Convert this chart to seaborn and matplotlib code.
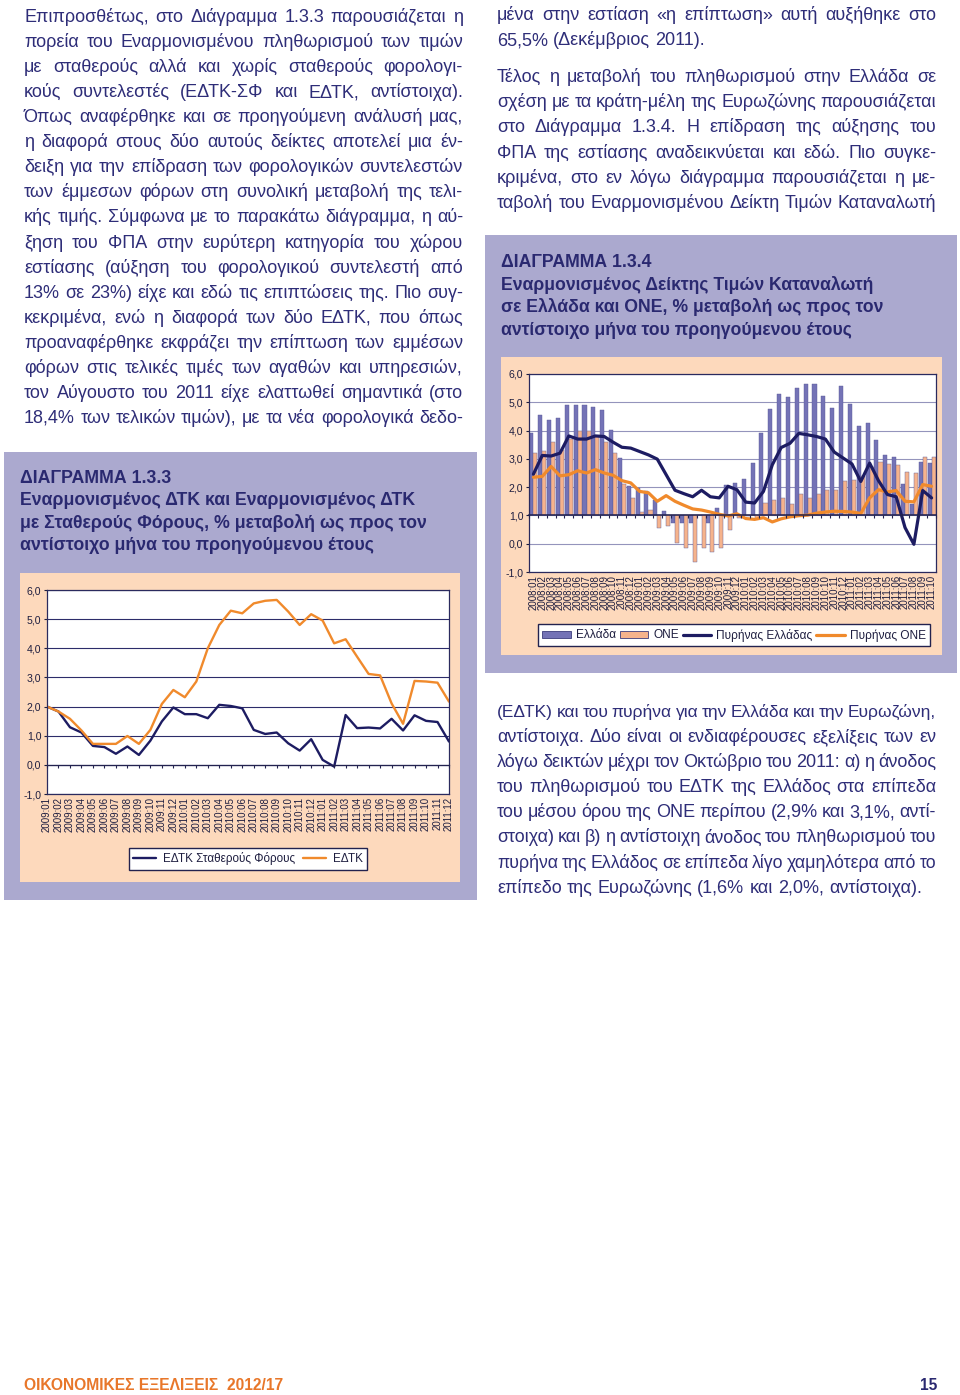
import numpy as np
import pandas as pd
import matplotlib
matplotlib.use("Agg")
import matplotlib.pyplot as plt
import matplotlib.patches as mpatches
from matplotlib.lines import Line2D
from matplotlib.ticker import FuncFormatter
import seaborn as sns

W, H = 960, 1395

# ---------------- data: chart 1.3.3 (2009:01 - 2011:12) ----------------
months_1 = ["%d:%02d" % (y, m) for y in (2009, 2010, 2011) for m in range(1, 13)]
hicp_const_tax = [2.0, 1.83, 1.29, 1.11, 0.65, 0.61, 0.38, 0.63, 0.34, 0.83, 1.49, 1.97,
                  1.74, 1.74, 1.6, 2.06, 2.02, 1.94, 1.2, 1.06, 1.11, 0.74, 0.49, 0.88,
                  0.17, -0.06, 1.71, 1.26, 1.28, 1.25, 1.58, 1.18, 1.7, 1.51, 1.47, 0.8]
hicp_gr = [2.0, 1.83, 1.58, 1.18, 0.72, 0.72, 0.72, 0.99, 0.72, 1.2, 2.09, 2.57,
           2.32, 2.86, 4.0, 4.8, 5.29, 5.2, 5.54, 5.63, 5.66, 5.26, 4.8, 5.17,
           4.95, 4.17, 4.31, 3.71, 3.12, 3.07, 2.11, 1.41, 2.88, 2.86, 2.82, 2.17]

# ---------------- data: chart 1.3.4 (2008:01 - 2011:10) ----------------
months_2 = ["%d:%02d" % (y, m) for y in (2008, 2009, 2010, 2011) for m in range(1, 13)][:46]
greece = [3.9, 4.55, 4.37, 4.43, 4.92, 4.92, 4.92, 4.84, 4.72, 4.02, 3.02, 2.05,
          1.98, 1.85, 1.55, 1.15, 0.74, 0.74, 0.74, 1.0, 0.74, 1.25, 2.09, 2.15,
          2.3, 2.85, 3.9, 4.75, 5.29, 5.19, 5.51, 5.63, 5.65, 5.22, 4.8, 5.58,
          4.93, 4.16, 4.28, 3.67, 3.14, 3.08, 2.12, 1.4, 2.88, 2.85]
euro = [3.22, 3.28, 3.59, 3.3, 3.7, 3.99, 4.0, 3.8, 3.6, 3.2, 2.1, 1.62,
        1.13, 1.19, 0.57, 0.62, 0.04, -0.14, -0.66, -0.16, -0.31, -0.16, 0.5, 0.9,
        0.98, 0.86, 1.44, 1.53, 1.6, 1.41, 1.76, 1.6, 1.77, 1.91, 1.91, 2.2,
        2.26, 2.4, 2.7, 2.9, 2.81, 2.79, 2.53, 2.5, 3.08, 3.08]
core_greece = [2.46, 3.12, 3.1, 3.2, 3.81, 3.7, 3.7, 3.81, 3.79, 3.59, 3.41, 3.38,
               3.26, 3.14, 2.99, 2.44, 1.89, 1.77, 1.66, 1.89, 1.66, 1.62, 2.03, 1.91,
               1.47, 1.44, 1.85, 2.79, 3.4, 3.55, 3.9, 3.85, 3.79, 3.7, 3.24, 3.03,
               2.82, 2.2, 2.85, 2.23, 1.74, 1.66, 0.57, -0.02, 1.88, 1.62]
core_euro = [2.35, 2.38, 2.73, 2.4, 2.44, 2.58, 2.5, 2.62, 2.5, 2.42, 2.23, 2.15,
             1.85, 1.8, 1.5, 1.7, 1.5, 1.36, 1.23, 1.19, 1.12, 1.04, 0.98, 1.06,
             0.89, 0.86, 0.92, 0.77, 0.88, 0.95, 0.99, 1.01, 1.08, 1.12, 1.15, 1.14,
             1.12, 1.07, 1.62, 1.91, 1.83, 1.88, 1.5, 1.48, 2.09, 2.03]

# ---------------- page text ----------------
left_lines = [
    "Επιπροσθέτως, στο Διάγραμμα 1.3.3 παρουσιάζεται η",
    "πορεία του Εναρμονισμένου πληθωρισμού των τιμών",
    "με σταθερούς αλλά και χωρίς σταθερούς φορολογι-",
    "κούς συντελεστές (ΕΔΤΚ-ΣΦ και ΕΔΤΚ, αντίστοιχα).",
    "Όπως αναφέρθηκε και σε προηγούμενη ανάλυσή μας,",
    "η διαφορά στους δύο αυτούς δείκτες αποτελεί μια έν-",
    "δειξη για την επίδραση των φορολογικών συντελεστών",
    "των έμμεσων φόρων στη συνολική μεταβολή της τελι-",
    "κής τιμής. Σύμφωνα με το παρακάτω διάγραμμα, η αύ-",
    "ξηση του ΦΠΑ στην ευρύτερη κατηγορία του χώρου",
    "εστίασης (αύξηση του φορολογικού συντελεστή από",
    "13% σε 23%) είχε και εδώ τις επιπτώσεις της. Πιο συγ-",
    "κεκριμένα, ενώ η διαφορά των δύο ΕΔΤΚ, που όπως",
    "προαναφέρθηκε εκφράζει την επίπτωση των εμμέσων",
    "φόρων στις τελικές τιμές των αγαθών και υπηρεσιών,",
    "τον Αύγουστο του 2011 είχε ελαττωθεί σημαντικά (στο",
    "18,4% των τελικών τιμών), με τα νέα φορολογικά δεδο-",
]
right_top_1 = [
    "μένα στην εστίαση «η επίπτωση» αυτή αυξήθηκε στο",
    "65,5% (Δεκέμβριος 2011).",
]
right_top_2 = [
    "Τέλος η μεταβολή του πληθωρισμού στην Ελλάδα σε",
    "σχέση με τα κράτη-μέλη της Ευρωζώνης παρουσιάζεται",
    "στο Διάγραμμα 1.3.4. Η επίδραση της αύξησης του",
    "ΦΠΑ της εστίασης αναδεικνύεται και εδώ. Πιο συγκε-",
    "κριμένα, στο εν λόγω διάγραμμα παρουσιάζεται η με-",
    "ταβολή του Εναρμονισμένου Δείκτη Τιμών Καταναλωτή",
]
right_bottom = [
    "(ΕΔΤΚ) και του πυρήνα για την Ελλάδα και την Ευρωζώνη,",
    "αντίστοιχα. Δύο είναι οι ενδιαφέρουσες εξελίξεις των εν",
    "λόγω δεικτών μέχρι τον Οκτώβριο του 2011: α) η άνοδος",
    "του πληθωρισμού του ΕΔΤΚ της Ελλάδος στα επίπεδα",
    "του μέσου όρου της ΟΝΕ περίπου (2,9% και 3,1%, αντί-",
    "στοιχα) και β) η αντίστοιχη άνοδος του πληθωρισμού του",
    "πυρήνα της Ελλάδος σε επίπεδα λίγο χαμηλότερα από το",
    "επίπεδο της Ευρωζώνης (1,6% και 2,0%, αντίστοιχα).",
]
title_1 = ["ΔΙΑΓΡΑΜΜΑ 1.3.3",
           "Εναρμονισμένος ΔΤΚ και Εναρμονισμένος ΔΤΚ",
           "με Σταθερούς Φόρους, % μεταβολή ως προς τον",
           "αντίστοιχο μήνα του προηγούμενου έτους"]
title_2 = ["ΔΙΑΓΡΑΜΜΑ 1.3.4",
           "Εναρμονισμένος Δείκτης Τιμών Καταναλωτή",
           "σε Ελλάδα και ΟΝΕ, % μεταβολή ως προς τον",
           "αντίστοιχο μήνα του προηγούμενου έτους"]

# ---------------- style ----------------
sns.set_style("white")
plt.rcParams['font.family'] = ['Liberation Sans', 'DejaVu Sans']

TEXT = '#2e2d78'
TITLE = '#2a2970'
BOX = '#aba9cf'
PEACH = '#fdd9bc'
NAVY = '#1d1c62'
ORANGE = '#f08a2c'
PURPLE = '#7473b6'
SALMON = '#f6b38c'
TICKC = '#1e1e40'

fig = plt.figure(figsize=(W / 100, H / 100), dpi=100)
fig.patch.set_facecolor('white')
renderer = fig.canvas.get_renderer()


def fx(x):
    return x / W


def fy(y):
    return 1 - y / H


def rect(x0, y0, x1, y1):
    return [fx(x0), fy(y1), (x1 - x0) / W, (y1 - y0) / H]


def box(x0, y0, x1, y1, color):
    fig.add_artist(mpatches.Rectangle((fx(x0), fy(y1)), (x1 - x0) / W, (y1 - y0) / H,
                                      transform=fig.transFigure, facecolor=color,
                                      edgecolor='none', zorder=-5))


def fitted_size(text, width, base=12, **kw):
    t = fig.text(0, 0, text, fontsize=base, **kw)
    w = t.get_window_extent(renderer).width
    t.remove()
    return base * width / w


def justify_line(line, x0, x1, y, size, last=False):
    words = line.split()
    texts = [fig.text(0, fy(y), w, fontsize=size, color=TEXT, va='baseline', ha='left')
             for w in words]
    widths = [t.get_window_extent(renderer).width for t in texts]
    space = size * 100 / 72 * 0.278
    n = len(words)
    total = x1 - x0
    if not last and n > 1:
        min_total = sum(widths) + (n - 1) * space * 0.75
        if min_total > total:
            scale = (total - (n - 1) * space * 0.75) / sum(widths)
            for t in texts:
                t.set_fontsize(size * scale)
            widths = [t.get_window_extent(renderer).width for t in texts]
        gap = (total - sum(widths)) / (n - 1)
    else:
        gap = space
    x = x0
    for t, w in zip(texts, widths):
        t.set_x(fx(x))
        x += w + gap


def paragraph(lines, x0, x1, y0, step, size, last_free=True):
    for i, line in enumerate(lines):
        last = last_free and i == len(lines) - 1
        justify_line(line, x0, x1, y0 + i * step, size, last)


# body size: the tightest line of the page fills the column with plain spaces
BODY = fitted_size(right_top_2[-1], 439)
paragraph(left_lines, 24, 463, 22, 25.06, BODY, last_free=False)
paragraph(right_top_1, 497, 936, 20, 25.06, BODY)
paragraph(right_top_2, 497, 936, 82, 25.2, BODY, last_free=False)
paragraph(right_bottom, 497, 936, 717, 25.1, BODY)

# ---------------- chart boxes ----------------
box(4, 452, 477, 900, BOX)
box(20, 573, 460, 882, PEACH)
box(485, 235, 957, 673, BOX)
box(501, 357, 942, 655, PEACH)

ts1 = fitted_size(title_1[1], 395, fontweight='bold')
for i, line in enumerate(title_1):
    fig.text(fx(20.5), fy(483 + i * 22.5), line, fontsize=ts1, fontweight='bold',
             color=TITLE, va='baseline')
ts2 = fitted_size(title_2[1], 371, fontweight='bold')
for i, line in enumerate(title_2):
    fig.text(fx(501), fy(267 + i * 22.7), line, fontsize=ts2, fontweight='bold',
             color=TITLE, va='baseline')

comma = FuncFormatter(lambda v, p: ("%.1f" % v).replace('.', ','))


def style_axes(ax, grid_color):
    ax.set_facecolor('white')
    ax.set_ylim(-1, 6)
    ax.set_yticks(np.arange(-1, 7))
    ax.yaxis.set_major_formatter(comma)
    ax.grid(axis='y', color=grid_color, lw=0.8)
    ax.grid(axis='x', visible=False)
    ax.set_axisbelow(True)
    for s in ax.spines.values():
        s.set_visible(True)
        s.set_color('#2a2a5e')
        s.set_linewidth(0.9)
    ax.tick_params(axis='y', left=True, length=2.5, width=0.8, pad=1.5,
                   labelsize=7.6, colors=TICKC)
    ax.tick_params(axis='x', length=0, pad=2, labelsize=7.0, colors=TICKC)
    ax.set_xlabel('')
    ax.set_ylabel('')


def axis_line(ax, level, ticks, lw):
    twin = ax.twiny()
    twin.set_xlim(ax.get_xlim())
    twin.patch.set_visible(False)
    for name, s in twin.spines.items():
        s.set_visible(name == 'bottom')
    twin.xaxis.set_ticks_position('bottom')
    twin.spines['bottom'].set_position(('data', level))
    twin.spines['bottom'].set_color('#22224f')
    twin.spines['bottom'].set_linewidth(lw)
    twin.set_xticks(ticks)
    twin.set_xticklabels([])
    twin.tick_params(axis='x', direction='out', length=2.5, width=0.8, colors='#22224f')
    twin.grid(False)


# ---------------- chart 1.3.3 ----------------
ax1 = fig.add_axes(rect(47, 590, 449, 794))
df1 = pd.DataFrame({'pos': np.arange(len(months_1)),
                    'const': hicp_const_tax, 'hicp': hicp_gr})
sns.lineplot(data=df1, x='pos', y='const', ax=ax1, color=NAVY, lw=1.7)
sns.lineplot(data=df1, x='pos', y='hicp', ax=ax1, color=ORANGE, lw=1.7)
ax1.set_xlim(0, len(months_1) - 1)
style_axes(ax1, '#2c2c6a')
ax1.set_xticks(np.arange(len(months_1)))
ax1.set_xticklabels(months_1, rotation=90)
axis_line(ax1, 0, np.arange(len(months_1)), 0.9)

leg1 = [Line2D([], [], color=NAVY, lw=1.7), Line2D([], [], color=ORANGE, lw=1.7)]
fig.legend(leg1, ['ΕΔΤΚ Σταθερούς Φόρους', 'ΕΔΤΚ'], ncol=2, loc='center',
           bbox_to_anchor=(fx(123), fy(869), 250 / W, 20 / H), mode='expand',
           bbox_transform=fig.transFigure, fontsize=8.4, frameon=True, fancybox=False,
           edgecolor='#22224f', framealpha=1, borderpad=0.35, handlelength=2.0,
           handletextpad=0.6, labelcolor=TICKC)

# ---------------- chart 1.3.4 ----------------
ax2 = fig.add_axes(rect(529, 374, 936, 572))
bars = pd.DataFrame({'month': months_2 * 2,
                     'series': ['Ελλάδα'] * len(months_2) + ['ΟΝΕ'] * len(months_2),
                     'value': greece + euro})
bars['height'] = bars['value'] - 1.0
sns.barplot(data=bars, x='month', y='height', hue='series', order=months_2,
            hue_order=['Ελλάδα', 'ΟΝΕ'],
            palette={'Ελλάδα': PURPLE, 'ΟΝΕ': SALMON}, saturation=1,
            width=0.92, dodge=True, errorbar=None, legend=False, bottom=1.0,
            edgecolor='#5a5a96', linewidth=0.3, ax=ax2)
df2 = pd.DataFrame({'pos': np.arange(len(months_2)),
                    'core_gr': core_greece, 'core_ea': core_euro})
sns.lineplot(data=df2, x='pos', y='core_ea', ax=ax2, color=ORANGE, lw=2.3)
sns.lineplot(data=df2, x='pos', y='core_gr', ax=ax2, color=NAVY, lw=2.3)
ax2.set_xlim(-0.5, len(months_2) - 0.5)
style_axes(ax2, '#9494bc')
ax2.set_xticks(np.arange(len(months_2)))
ax2.set_xticklabels(months_2, rotation=90)
axis_line(ax2, 1.0, np.arange(len(months_2) + 1) - 0.5, 1.1)

leg2 = [mpatches.Patch(facecolor=PURPLE, edgecolor='#3c3c7c', lw=0.6),
        mpatches.Patch(facecolor=SALMON, edgecolor='#3c3c7c', lw=0.6),
        Line2D([], [], color=NAVY, lw=2.3), Line2D([], [], color=ORANGE, lw=2.3)]
fig.legend(leg2, ['Ελλάδα', 'ΟΝΕ', 'Πυρήνας Ελλάδας', 'Πυρήνας ΟΝΕ'], ncol=4,
           loc='center', bbox_to_anchor=(fx(532), fy(645), 404 / W, 20 / H),
           mode='expand', bbox_transform=fig.transFigure, fontsize=8.6, frameon=True,
           fancybox=False, edgecolor='#22224f', framealpha=1, borderpad=0.35,
           handlelength=2.4, handleheight=0.5, handletextpad=0.4, labelcolor=TICKC)

# ---------------- footer ----------------
foot = 'ΟΙΚΟΝΟΜΙΚΕΣ ΕΞΕΛΙΞΕΙΣ  2012/17'
narrow = ['Liberation Sans Narrow', 'Liberation Sans', 'DejaVu Sans']
fs = fitted_size(foot, 260, fontweight='bold', family=narrow)
fig.text(fx(24), fy(1390), foot, fontsize=fs, fontweight='bold', family=narrow,
         color='#e8772a', va='baseline')
fig.text(fx(937), fy(1390), '15', fontsize=fs, fontweight='bold', family=narrow,
         color=TITLE, va='baseline', ha='right')

fig.savefig('out.png', dpi=100, facecolor='white')
